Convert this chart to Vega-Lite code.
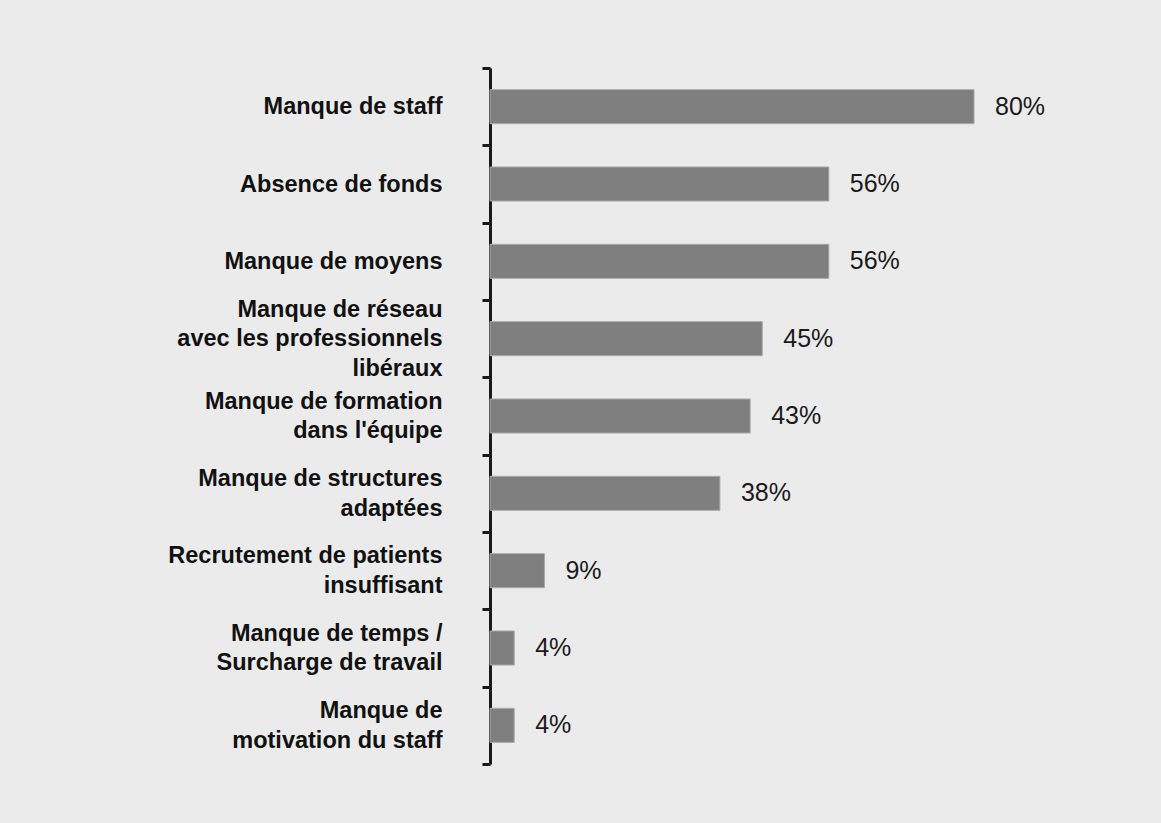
{
  "$schema": "https://vega.github.io/schema/vega-lite/v6.json",
  "autosize": {"type": "none"},
  "width": 605,
  "height": 696,
  "padding": {"left": 490, "top": 68, "right": 66, "bottom": 59},
  "background": "#ebebeb",
  "config": {"view": {"stroke": null}},
  "data": {
    "values": [
      {"cat": "Manque de staff", "value": 80, "label": "80%"},
      {"cat": "Absence de fonds", "value": 56, "label": "56%"},
      {"cat": "Manque de moyens", "value": 56, "label": "56%"},
      {"cat": "Manque de  réseau|avec les professionnels|libéraux", "value": 45, "label": "45%"},
      {"cat": "Manque de formation|dans l'équipe", "value": 43, "label": "43%"},
      {"cat": "Manque de structures|adaptées", "value": 38, "label": "38%"},
      {"cat": "Recrutement de patients|insuffisant", "value": 9, "label": "9%"},
      {"cat": "Manque de temps /|Surcharge de travail", "value": 4, "label": "4%"},
      {"cat": "Manque de|motivation du staff", "value": 4, "label": "4%"}
    ]
  },
  "encoding": {
    "y": {
      "field": "cat",
      "type": "nominal",
      "sort": null,
      "scale": {"paddingInner": 0, "paddingOuter": 0},
      "axis": {
        "title": null,
        "orient": "left",
        "domainColor": "#1a1a1a",
        "domainWidth": 3,
        "tickColor": "#1a1a1a",
        "tickWidth": 3,
        "tickSize": 8,
        "tickBand": "extent",
        "labelExpr": "isValid(datum.value) ? split(datum.value, '|') : ''",
        "labelFont": "Liberation Sans",
        "labelFontWeight": "bold",
        "labelFontSize": 23.5,
        "labelColor": "#111111",
        "labelLineHeight": 29.5,
        "labelPadding": 40,
        "labelAlign": "right",
        "labelBaseline": "middle",
        "labelLimit": 400,
        "labelOffset": {
          "condition": [
            {"test": "!isValid(datum.value) || indexof(datum.value, '|') < 0", "value": 0},
            {"test": "length(split(datum.value, '|')) > 2", "value": -29.5}
          ],
          "value": -14.75
        },
        "grid": false
      }
    },
    "x": {
      "field": "value",
      "type": "quantitative",
      "scale": {"domain": [0, 100]},
      "axis": null
    }
  },
  "layer": [
    {
      "mark": {"type": "bar", "color": "#7f7f7f", "stroke": "#a8a8a8", "strokeWidth": 1, "height": {"band": 0.44}}
    },
    {
      "mark": {"type": "text", "align": "left", "baseline": "middle", "dx": 21, "font": "Liberation Sans", "fontSize": 25, "color": "#1a1a1a"},
      "encoding": {"text": {"field": "label"}}
    }
  ]
}
